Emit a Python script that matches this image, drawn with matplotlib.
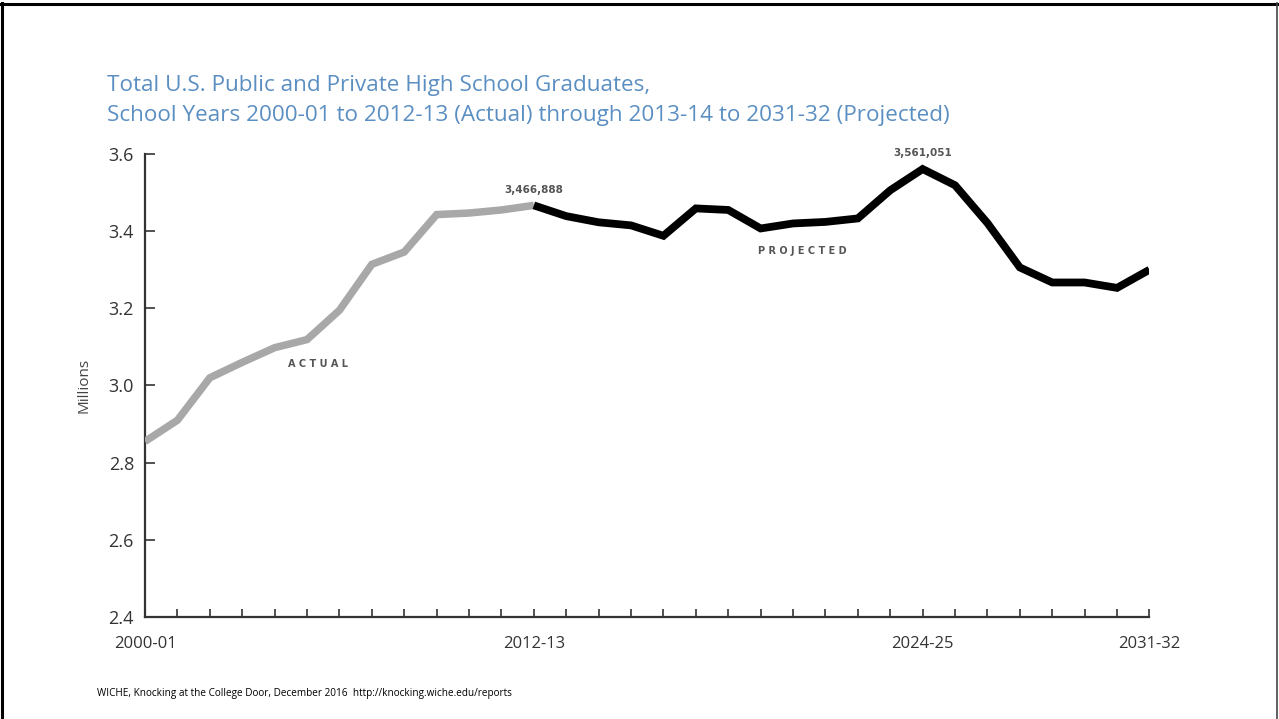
import matplotlib
matplotlib.use("Agg")
import matplotlib.pyplot as plt
from matplotlib.lines import Line2D

# school years, 2000-01 .. 2031-32 (index 0..31)
years = [f"{y}-{str(y + 1)[-2:]}" for y in range(2000, 2032)]

# graduates in millions
actual = [2.855, 2.91, 3.02, 3.06, 3.098, 3.119, 3.195, 3.314, 3.346, 3.443,
          3.447, 3.455, 3.466888]
projected = [3.466888, 3.439, 3.423, 3.415, 3.388, 3.459, 3.455, 3.407, 3.42,
             3.424, 3.433, 3.506, 3.561051, 3.519, 3.421, 3.306, 3.267, 3.267,
             3.253, 3.300]

labeled_years = ["2000-01", "2012-13", "2024-25", "2031-32"]
y_ticks = [2.4, 2.6, 2.8, 3.0, 3.2, 3.4, 3.6]

title_color = "#5b8fc2"
text_color = "#333333"

fig = plt.figure(figsize=(12.79, 7.19), dpi=100)
ax = fig.add_axes([0.1134, 0.1419, 0.7853, 0.6439])

x_act = list(range(len(actual)))
x_proj = list(range(len(actual) - 1, len(actual) - 1 + len(projected)))

ax.plot(x_act, actual, color="#a8a8a8", linewidth=5.4, solid_joinstyle="miter",
        solid_capstyle="butt", zorder=3)
ax.plot(x_proj, projected, color="black", linewidth=5.6, solid_joinstyle="miter",
        solid_capstyle="butt", zorder=4)

ax.set_xlim(0, len(years) - 1)
ax.set_ylim(2.4, 3.6)

ax.set_xticks(range(len(years)))
ax.set_xticklabels([y if y in labeled_years else "" for y in years])
ax.set_yticks(y_ticks)
ax.set_yticklabels([f"{v:.1f}" for v in y_ticks])

for side in ["top", "right"]:
    ax.spines[side].set_visible(False)
for side in ["left", "bottom"]:
    ax.spines[side].set_color(text_color)
    ax.spines[side].set_linewidth(1.6)

ax.tick_params(axis="x", direction="in", length=6, width=1.2, color=text_color,
               pad=14, labelsize=12, labelcolor=text_color)
ax.tick_params(axis="y", direction="in", length=7, width=1.2, color=text_color,
               pad=8, labelsize=13, labelcolor=text_color)
for lab in ax.get_xticklabels() + ax.get_yticklabels():
    lab.set_family("Open Sans")

ax.set_ylabel("Millions", fontsize=11, color="#444444", family="Open Sans", labelpad=12)

# annotations
ax.text(12, 3.495, "3,466,888", ha="center", va="bottom", fontsize=7.5,
        color="#555555", family="DejaVu Sans", fontweight="bold")
ax.text(24, 3.589, "3,561,051", ha="center", va="bottom", fontsize=7.5,
        color="#555555", family="DejaVu Sans", fontweight="bold")
ax.text(5.35, 3.057, "A C T U A L", ha="center", va="center", fontsize=7,
        color="#555555", family="DejaVu Sans", fontweight="bold")
ax.text(20.3, 3.348, "P R O J E C T E D", ha="center", va="center", fontsize=7,
        color="#555555", family="DejaVu Sans", fontweight="bold")

# title
fig.text(0.0837, 0.881, "Total U.S. Public and Private High School Graduates,",
         fontsize=16.2, color=title_color, family="Open Sans", va="center")
fig.text(0.0837, 0.839,
         "School Years 2000-01 to 2012-13 (Actual) through 2013-14 to 2031-32 (Projected)",
         fontsize=16.2, color=title_color, family="Open Sans", va="center")

# source
fig.text(0.076, 0.036,
         "WICHE, Knocking at the College Door, December 2016  http://knocking.wiche.edu/reports",
         fontsize=7.2, color="black", family="Open Sans", va="center")

# slide border
fig.add_artist(Line2D([0.0015, 0.0015], [0, 0.996], transform=fig.transFigure,
                      color="black", linewidth=2.2))
fig.add_artist(Line2D([0, 1], [0.995, 0.995], transform=fig.transFigure,
                      color="black", linewidth=2.2))
fig.add_artist(Line2D([0.9988, 0.9988], [0, 0.996], transform=fig.transFigure,
                      color="#444444", linewidth=1.2))

fig.savefig("out.png", dpi=100)
